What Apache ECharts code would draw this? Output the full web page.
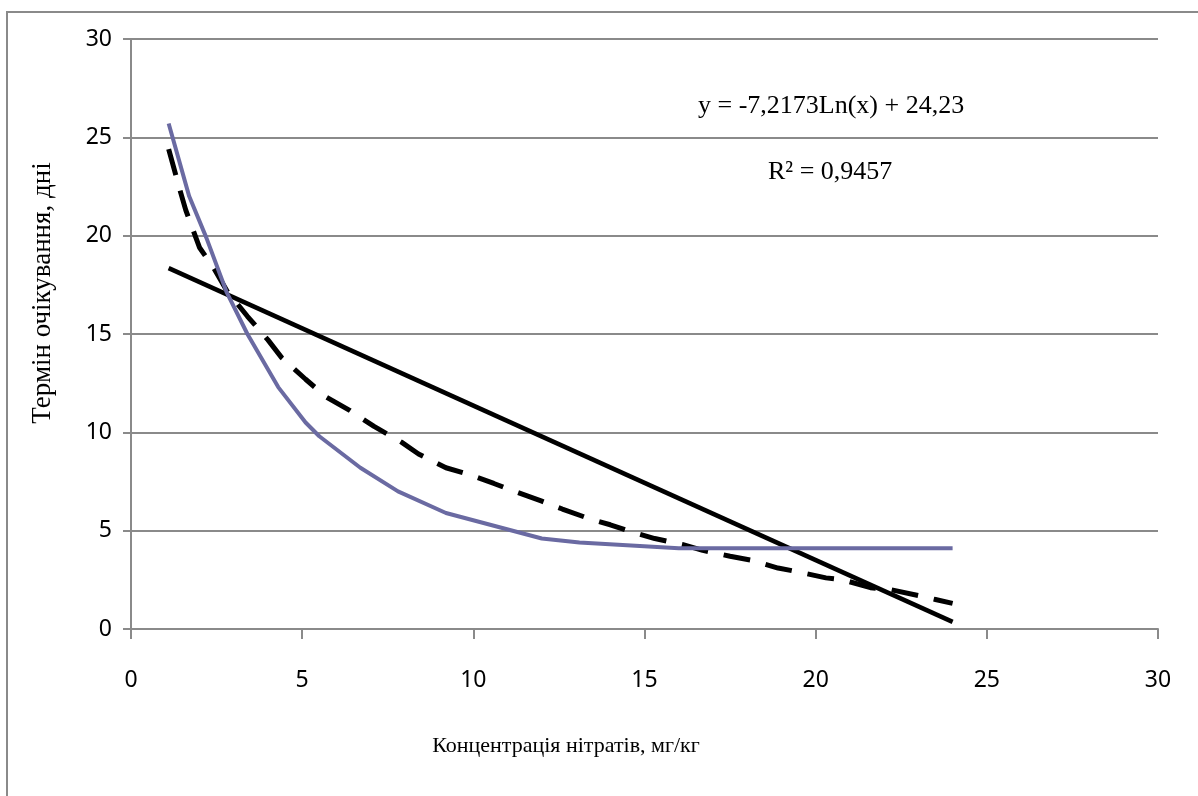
<!DOCTYPE html>
<html>
<head>
<meta charset="utf-8">
<title>Термін очікування</title>
<script src="https://cdn.jsdelivr.net/npm/echarts@6/dist/echarts.min.js"></script>
<style>
  html, body { margin: 0; padding: 0; background: #fff; }
  #chart { width: 1198px; height: 796px; }
</style>
</head>
<body>
<div id="chart"></div>
<script>
// axis ticks
const xTicks = [0, 5, 10, 15, 20, 25, 30];
const yTicks = [0, 5, 10, 15, 20, 25, 30];

// measured series (blue)
const measuredX = [1.1, 1.7, 2.2, 2.8, 3.4, 4.3, 5.1, 5.5, 6.7, 7.8, 9.2, 12, 13.1, 16, 24];
const measuredY = [25.7, 22.0, 19.9, 17.1, 15.0, 12.3, 10.5, 9.8, 8.2, 7.0, 5.9, 4.6, 4.4, 4.1, 4.1];

// logarithmic trend (dashed)
const logTrendX = [1.1, 1.4, 1.6, 2.0, 2.4, 2.8, 3.4, 4.0, 4.4, 5.1, 5.7, 6.4, 7.1, 7.9, 8.4, 9.2, 9.8, 10.6, 11.2,
  12.0, 12.6, 13.4, 14.0, 14.7, 15.3, 16.1, 16.7, 17.5, 18.1, 18.9, 19.5, 20.3, 20.8, 21.6, 22.2, 23.0, 23.5, 24.0];
const logTrendY = [24.4, 22.5, 21.3, 19.4, 18.4, 17.2, 15.9, 14.7, 13.8, 12.7, 11.8, 11.1, 10.3, 9.5, 8.9, 8.2, 7.9, 7.4, 7.0,
  6.5, 6.1, 5.6, 5.3, 4.9, 4.6, 4.3, 4.0, 3.7, 3.5, 3.1, 2.9, 2.6, 2.5, 2.1, 2.0, 1.7, 1.5, 1.3];

// linear trend (solid black)
const linTrendX = [1.1, 24];
const linTrendY = [18.35, 0.36];

const equationText = 'y = -7,2173Ln(x) + 24,23';
const r2Text = 'R² = 0,9457';
const xName = 'Концентрація нітратів, мг/кг';
const yName = 'Термін очікування, дні';

const zip = (xs, ys) => xs.map((x, i) => [x, ys[i]]);

const gridColor = '#8a8a8a';
const tickFont = '"Noto Sans", sans-serif';
const serifFont = '"Liberation Serif", "DejaVu Serif", serif';

const option = {
  animation: false,
  backgroundColor: '#fff',
  grid: {
    left: 131,
    right: 40,
    top: 39,
    bottom: 167,
  },
  xAxis: {
    type: 'value',
    min: xTicks[0],
    max: xTicks[xTicks.length - 1],
    interval: xTicks[1] - xTicks[0],
    axisLine: { show: true, lineStyle: { color: gridColor, width: 2 } },
    axisTick: { show: true, length: 10, lineStyle: { color: gridColor, width: 2 } },
    axisLabel: { color: '#000', fontFamily: tickFont, fontSize: 23, margin: 40 },
    splitLine: { show: false },
  },
  yAxis: {
    type: 'value',
    min: yTicks[0],
    max: yTicks[yTicks.length - 1],
    interval: yTicks[1] - yTicks[0],
    axisLine: { show: true, lineStyle: { color: gridColor, width: 2 } },
    axisTick: { show: true, length: 8, lineStyle: { color: gridColor, width: 2 } },
    axisLabel: { color: '#000', fontFamily: tickFont, fontSize: 23, margin: 19 },
    splitLine: { show: true, lineStyle: { color: gridColor, width: 2 } },
  },
  graphic: [
    {
      type: 'rect',
      shape: { x: 7, y: 12, width: 1300, height: 900 },
      style: { fill: 'none', stroke: gridColor, lineWidth: 2 },
      silent: true,
    },
    {
      type: 'text',
      x: 698,
      y: 106,
      style: {
        text: equationText,
        fill: '#000',
        font: '26px ' + serifFont,
        textAlign: 'left',
        textVerticalAlign: 'middle',
      },
    },
    {
      type: 'text',
      x: 768,
      y: 172,
      style: {
        text: r2Text,
        fill: '#000',
        font: '26px ' + serifFont,
        textAlign: 'left',
        textVerticalAlign: 'middle',
      },
    },
    {
      type: 'text',
      x: 566,
      y: 746,
      style: {
        text: xName,
        fill: '#000',
        font: '22px ' + serifFont,
        textAlign: 'center',
        textVerticalAlign: 'middle',
      },
    },
    {
      type: 'text',
      x: 43,
      y: 293,
      rotation: Math.PI / 2,
      style: {
        text: yName,
        fill: '#000',
        font: '27px ' + serifFont,
        textAlign: 'center',
        textVerticalAlign: 'middle',
      },
    },
  ],
  series: [
    {
      name: 'linear',
      type: 'line',
      data: zip(linTrendX, linTrendY),
      showSymbol: false,
      lineStyle: { color: '#000', width: 4.5 },
      z: 3,
    },
    {
      name: 'log',
      type: 'line',
      data: zip(logTrendX, logTrendY),
      showSymbol: false,
      lineStyle: { color: '#000', width: 5, type: [27, 16], cap: 'butt' },
      z: 4,
    },
    {
      name: 'measured',
      type: 'line',
      data: zip(measuredX, measuredY),
      showSymbol: false,
      lineStyle: { color: '#6a6aa2', width: 4 },
      z: 5,
    },
  ],
};

const chart = echarts.init(document.getElementById('chart'));
chart.setOption(option, true);
</script>
</body>
</html>
